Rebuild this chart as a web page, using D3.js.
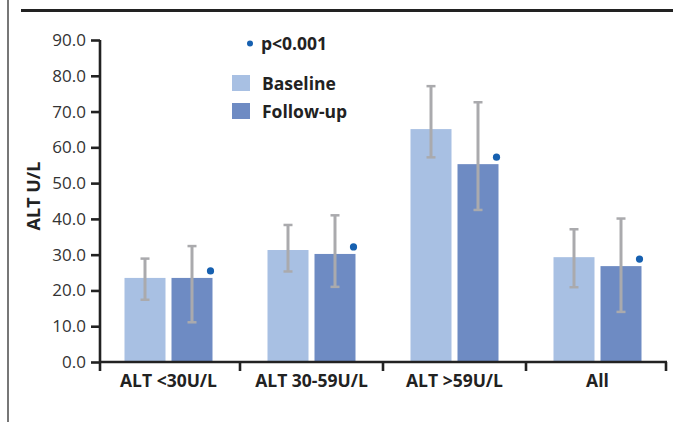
<!DOCTYPE html>
<html><head><meta charset="utf-8">
<script src="https://cdn.jsdelivr.net/npm/d3@7"></script>
<style>body{margin:0;background:#fff}svg{display:block}</style>
</head><body>
<svg id="c" width="681" height="422"></svg>
<script>
const categories = ["ALT <30U/L", "ALT 30-59U/L", "ALT >59U/L", "All"];
const series = ["Baseline", "Follow-up"];
const baseline = [23.5, 31.3, 65.1, 29.3];
const baselineLow = [17.4, 25.3, 57.2, 20.9];
const baselineHigh = [28.9, 38.3, 77.1, 37.1];
const followup = [23.5, 30.2, 55.3, 26.8];
const followupLow = [11.1, 21.0, 42.5, 14.0];
const followupHigh = [32.4, 41.0, 72.6, 40.1];
const significant = [true, true, true, true];
const yTicks = [0, 10, 20, 30, 40, 50, 60, 70, 80, 90];
const yTitle = "ALT U/L";
const pLabel = "p<0.001";

const colors = {"Baseline": "#a8c0e3", "Follow-up": "#6e8bc3"};
const font = "'Open Sans', sans-serif";
const svg = d3.select("#c");

// frame lines
svg.append("line").attr("x1", 8).attr("x2", 8).attr("y1", 0).attr("y2", 422)
  .attr("stroke", "#777").attr("stroke-width", 2);
svg.append("line").attr("x1", 21).attr("x2", 673).attr("y1", 10.5).attr("y2", 10.5)
  .attr("stroke", "#222").attr("stroke-width", 3);

const y = d3.scaleLinear().domain([0, 90]).range([362, 40]);
const x0 = d3.scaleBand().domain(categories).range([97, 669]);
const bw = x0.bandwidth();
const x1 = d3.scaleBand().domain(series).range([bw / 2 - 44, bw / 2 + 44]).paddingInner(0.1277);

const data = categories.map((c, i) => ({
  cat: c,
  vals: [
    {s: "Baseline", v: baseline[i], lo: baselineLow[i], hi: baselineHigh[i]},
    {s: "Follow-up", v: followup[i], lo: followupLow[i], hi: followupHigh[i]}
  ],
  sig: significant[i]
}));

const g = svg.append("g").selectAll("g").data(data).join("g")
  .attr("transform", d => `translate(${x0(d.cat)},0)`);

g.selectAll("rect").data(d => d.vals).join("rect")
  .attr("x", d => x1(d.s)).attr("width", x1.bandwidth())
  .attr("y", d => y(d.v)).attr("height", d => y(0) - y(d.v))
  .attr("fill", d => colors[d.s]);

// error bars
const eb = g.selectAll("g.eb").data(d => d.vals).join("g").attr("class", "eb");
eb.append("line")
  .attr("x1", d => x1(d.s) + x1.bandwidth() / 2).attr("x2", d => x1(d.s) + x1.bandwidth() / 2)
  .attr("y1", d => y(d.lo)).attr("y2", d => y(d.hi))
  .attr("stroke", "#aaaaad").attr("stroke-width", 3);
["lo", "hi"].forEach(k => {
  eb.append("line")
    .attr("x1", d => x1(d.s) + x1.bandwidth() / 2 - 4.5).attr("x2", d => x1(d.s) + x1.bandwidth() / 2 + 4.5)
    .attr("y1", d => y(d[k])).attr("y2", d => y(d[k]))
    .attr("stroke", "#aaaaad").attr("stroke-width", 2.5);
});

// significance dots
g.filter(d => d.sig).append("circle")
  .attr("cx", d => x1("Follow-up") + x1.bandwidth() - 2)
  .attr("cy", d => y(d.vals[1].v) - 7)
  .attr("r", 3.6).attr("fill", "#1660b0");

// y axis
const yAxis = svg.append("g").attr("transform", "translate(100,0)")
  .call(d3.axisLeft(y).tickValues(yTicks).tickFormat(d3.format(".1f")).tickSize(9).tickSizeOuter(0));
yAxis.select(".domain").attr("stroke", "#222").attr("stroke-width", 2.6);
yAxis.selectAll(".tick line").attr("stroke", "#222").attr("stroke-width", 2.6);
yAxis.selectAll(".tick text").attr("x", -14).attr("font-family", font).attr("font-size", 17)
  .attr("fill", "#333");
yAxis.select(".domain").attr("d", `M0,${y(90)}V${y(0) + 9}`);

// x axis
svg.append("line").attr("x1", 99).attr("x2", 667).attr("y1", y(0)).attr("y2", y(0))
  .attr("stroke", "#222").attr("stroke-width", 2.6);
const bounds = categories.slice(1).map(c => x0(c)).concat([666]);
svg.selectAll("line.xt").data(bounds).join("line").attr("class", "xt")
  .attr("x1", d => d).attr("x2", d => d).attr("y1", y(0)).attr("y2", y(0) + 9)
  .attr("stroke", "#222").attr("stroke-width", 2.6);
svg.selectAll("text.xl").data(categories).join("text").attr("class", "xl")
  .attr("x", d => x0(d) + bw / 2).attr("y", 386.5)
  .attr("text-anchor", "middle").attr("font-family", font).attr("font-weight", "bold")
  .attr("font-size", 17.5).attr("fill", "#222").text(d => d);

// y title
svg.append("text").attr("transform", "translate(40,196) rotate(-90)")
  .attr("text-anchor", "middle").attr("font-family", font).attr("font-weight", "bold")
  .attr("font-size", 18).attr("fill", "#222").text(yTitle);

// legend
svg.append("circle").attr("cx", 250).attr("cy", 43.5).attr("r", 3).attr("fill", "#1660b0");
svg.append("text").attr("x", 261).attr("y", 49.5).attr("font-family", font).attr("font-weight", "bold")
  .attr("font-size", 17.5).attr("fill", "#222").text(pLabel);
series.forEach((s, i) => {
  const yy = 75 + i * 28;
  svg.append("rect").attr("x", 232).attr("y", yy).attr("width", 18).attr("height", 16).attr("fill", colors[s]);
  svg.append("text").attr("x", 262).attr("y", yy + 14.5).attr("font-family", font).attr("font-weight", "bold")
    .attr("font-size", 17.5).attr("fill", "#222").text(s);
});
</script>
</body></html>
